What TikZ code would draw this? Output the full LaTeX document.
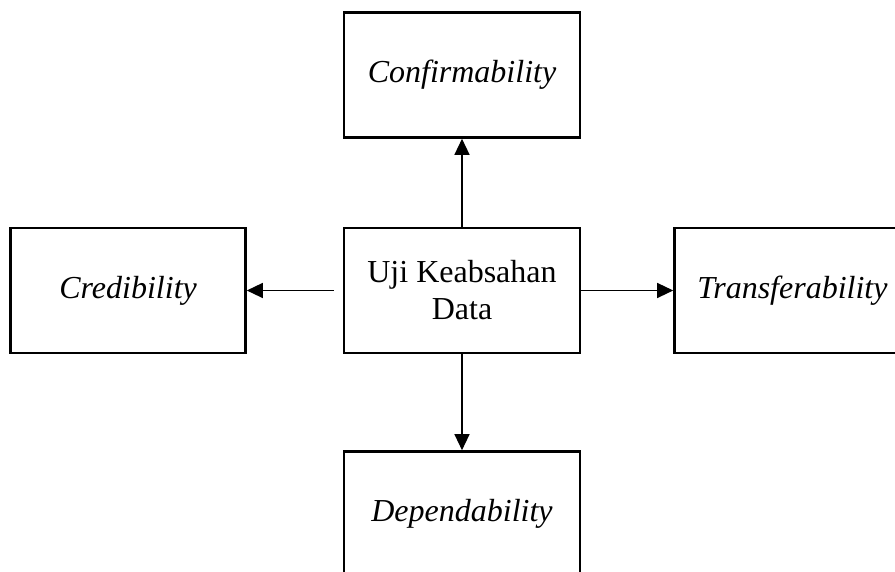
\documentclass[tikz,border=0pt]{standalone}
\usepackage{fontspec}
\setmainfont{Liberation Serif}
\usepackage{tikz}
\usetikzlibrary{arrows.meta,positioning}

\begin{document}
\begin{tikzpicture}[x=1pt,y=1pt,-{Triangle[length=16pt,width=15pt]},line width=1.3pt,
                    node distance=92pt,font=\fontsize{32}{37}\selectfont]
				  \tikzstyle{box}=[draw,rectangle,line width=2.4pt,minimum width=236pt,
				                   minimum height=125pt,inner sep=0pt,align=center]
				  \clip (0,0) rectangle (895,572);
				
				  \node[box]           (uji)  at (462,281.5)       {Uji Keabsahan\\Data};
				  \node[box]           (conf) [above=88pt of uji]  {\itshape Confirmability};
				  \node[box,minimum width=235pt] (cred) [left=96pt of uji] {\itshape Credibility};
				  \node[box]           (trans) [right=of uji]      {\itshape Transferability};
				  \node[box]           (dep)  [below=96pt of uji]  {\itshape Dependability};
				
				  \path
				  	(uji) edge (conf)
				  	      edge [shorten <=9pt] (cred)
				  	      edge (trans)
				  	      edge (dep);
			\end{tikzpicture}
\end{document}
